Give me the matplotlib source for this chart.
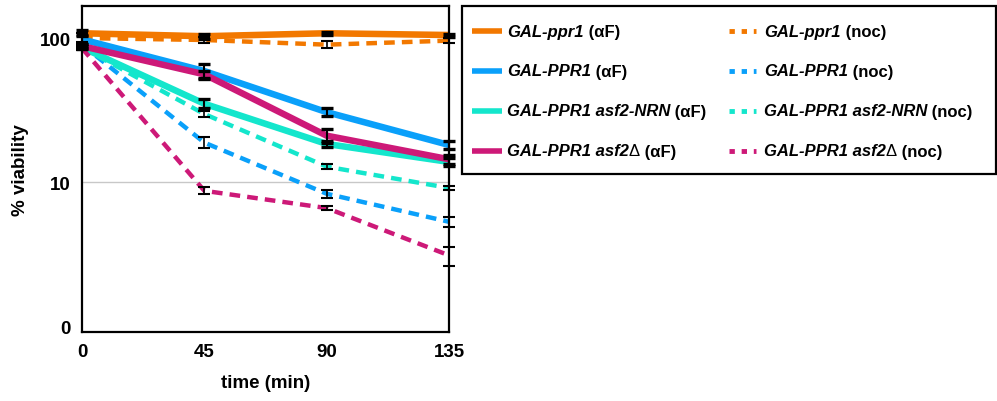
import matplotlib.pyplot as plt
from matplotlib.lines import Line2D
from matplotlib.patches import Rectangle

plt.rcParams['font.family'] = ['Liberation Sans', 'DejaVu Sans']

# time points (min)
time = [0, 45, 90, 135]

# % viability, alpha-factor arrest (solid) and nocodazole arrest (dashed)
ppr1_af = [108, 103, 108, 105]
ppr1_af_err = [5, 4, 2.5, 2.5]
ppr1_noc = [100, 97, 90, 96]
ppr1_noc_err = [9, 4, 5, 4]

PPR1_af = [98, 59, 30.6, 18.1]
PPR1_af_err = [7, 7, 2, 1.2]
PPR1_noc = [90, 18.8, 8.3, 5.3]
PPR1_noc_err = [4, 1.6, 0.5, 0.4]

nrn_af = [86, 35, 18.4, 13.8]
nrn_af_err = [2, 2.5, 1, 0.8]
nrn_noc = [86, 29.7, 12.8, 9.1]
nrn_noc_err = [2, 1.5, 0.45, 0.3]

del_af = [88, 56, 21, 14.4]
del_af_err = [3, 3, 2.4, 1]
del_noc = [85, 8.7, 6.6, 3.1]
del_noc_err = [2, 0.5, 0.2, 0.47]

orange = '#f27800'
blue = '#0aa0fa'
teal = '#14e6cc'
magenta = '#cd1978'

series = [
    (ppr1_af, ppr1_af_err, orange, 'solid'),
    (ppr1_noc, ppr1_noc_err, orange, 'dash'),
    (PPR1_af, PPR1_af_err, blue, 'solid'),
    (PPR1_noc, PPR1_noc_err, blue, 'dash'),
    (nrn_af, nrn_af_err, teal, 'solid'),
    (nrn_noc, nrn_noc_err, teal, 'dash'),
    (del_af, del_af_err, magenta, 'solid'),
    (del_noc, del_noc_err, magenta, 'dash'),
]

fig = plt.figure(figsize=(9.97, 4.02), dpi=100)
ax = fig.add_axes([82 / 997, 1 - 333 / 402, 367 / 997, 326 / 402])

ax.axhline(10, color='#c8c8c8', lw=1, zorder=0)

for vals, err, col, style in series:
    if style == 'solid':
        ax.plot(time, vals, color=col, lw=4.7, solid_capstyle='butt', zorder=2)
    else:
        ax.plot(time, vals, color=col, lw=3.2, dashes=(2.4, 1.6),
                dash_capstyle='butt', zorder=2)

for vals, err, col, style in series:
    thick = style == 'solid'
    ax.errorbar(time, vals, yerr=err, fmt='none', ecolor='black',
                elinewidth=1.5 if thick else 1.2,
                capsize=4.5 if thick else 4, capthick=2.4 if thick else 1.5,
                zorder=3, clip_on=False)

ax.set_yscale('log')
ax.set_ylim(0.91, 167)
ax.set_xlim(0, 135)
ax.set_yticks([1, 10, 100])
ax.set_yticklabels(['0', '10', '100'])
ax.minorticks_off()
ax.set_xticks(time)
ax.tick_params(length=0, labelsize=13.5, pad=8)
for lab in ax.get_xticklabels() + ax.get_yticklabels():
    lab.set_fontweight('bold')
for sp in ax.spines.values():
    sp.set_linewidth(1.6)
ax.set_xlabel('time (min)', fontsize=13.5, fontweight='bold', labelpad=10)
ax.set_ylabel('% viability', fontsize=13.5, fontweight='bold', labelpad=8)

# legend box drawn by hand so the gene names can be italic
W, H = 997, 402
fig.patches.append(Rectangle((462 / W, 1 - 175 / H), 534 / W, 168 / H,
                             transform=fig.transFigure, fill=False,
                             edgecolor='black', lw=1.6))

bi = dict(fontweight='bold', fontstyle='italic')
bn = dict(fontweight='bold')
rn = dict(fontweight='normal')
legend_rows = [
    ([('GAL-ppr1', bi), (' (αF)', bn)], [('GAL-ppr1', bi), (' (noc)', bn)], orange),
    ([('GAL-PPR1', bi), (' (αF)', bn)], [('GAL-PPR1', bi), (' (noc)', bn)], blue),
    ([('GAL-PPR1 asf2-NRN', bi), (' (αF)', bn)],
     [('GAL-PPR1 asf2-NRN', bi), (' (noc)', bn)], teal),
    ([('GAL-PPR1 asf2', bi), ('Δ', rn), (' (αF)', bn)],
     [('GAL-PPR1 asf2', bi), ('Δ', rn), (' (noc)', bn)], magenta),
]

renderer = fig.canvas.get_renderer()


def write_pieces(x_px, y_px, pieces):
    x = x_px / W
    for txt, style in pieces:
        t = fig.text(x, 1 - y_px / H, txt, fontsize=12, va='baseline',
                     ha='left', **style)
        x += t.get_window_extent(renderer).width / W


row_y = [32, 72, 112, 152]
for (left, right, col), yc in zip(legend_rows, row_y):
    fig.add_artist(Line2D([472 / W, 502 / W], [1 - yc / H] * 2,
                          transform=fig.transFigure, color=col, lw=4,
                          solid_capstyle='butt'))
    fig.add_artist(Line2D([729 / W, 756 / W], [1 - yc / H] * 2,
                          transform=fig.transFigure, color=col, lw=3.5,
                          dashes=(1.1, 1.4), dash_capstyle='butt'))
    write_pieces(507, yc + 4.5, left)
    write_pieces(764, yc + 4.5, right)

fig.savefig('out.png', dpi=100)
